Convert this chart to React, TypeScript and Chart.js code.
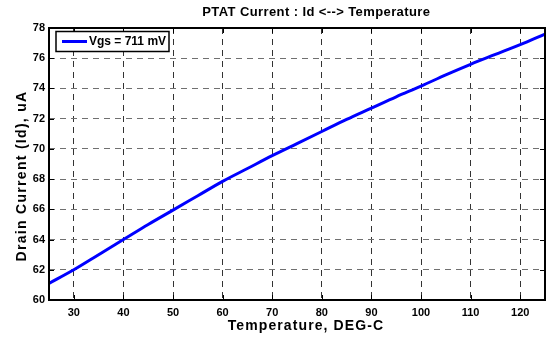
import React, { useEffect, useRef } from "react";
import { Chart, registerables } from "chart.js";

Chart.register(...registerables);

const temperatures = [25, 30, 35, 40, 45, 50, 55, 60, 65, 70, 75, 80, 85, 90, 95, 100, 105, 110, 115, 120, 125];
const drainCurrent = [61.1, 62.0, 63.0, 64.0, 65.0, 65.95, 66.9, 67.85, 68.7, 69.55, 70.35, 71.15, 71.95, 72.7, 73.45, 74.15, 74.9, 75.6, 76.25, 76.9, 77.6];
const xTicks = [30, 40, 50, 60, 70, 80, 90, 100, 110, 120];
const yTicks = [60, 62, 64, 66, 68, 70, 72, 74, 76, 78];
const seriesLabel = "Vgs = 711 mV";
const chartTitle = "PTAT Current : Id <--> Temperature";
const xTitle = "Temperature, DEG-C";
const yTitle = "Drain Current (Id), uA";

const FONT = "Arial, 'Liberation Sans', Helvetica, sans-serif";

export default function App() {
  const ref = useRef<HTMLCanvasElement>(null);

  useEffect(() => {
    document.body.style.margin = "0";
    const canvas = ref.current;
    if (!canvas) return;

    const framePlugin = {
      id: "frame",
      afterDraw(chart: any) {
        const { ctx, chartArea: a, scales } = chart;
        const xs = scales.x;
        const ys = scales.y;
        ctx.save();
        // inward tick marks
        ctx.strokeStyle = "#000";
        ctx.lineWidth = 1;
        ctx.setLineDash([]);
        ctx.beginPath();
        xTicks.forEach((v) => {
          const px = Math.round(xs.getPixelForValue(v)) + 0.5;
          ctx.moveTo(px, a.bottom);
          ctx.lineTo(px, a.bottom - 5);
          ctx.moveTo(px, a.top);
          ctx.lineTo(px, a.top + 5);
        });
        yTicks.forEach((v) => {
          const py = Math.round(ys.getPixelForValue(v)) + 0.5;
          ctx.moveTo(a.left, py);
          ctx.lineTo(a.left + 5, py);
          ctx.moveTo(a.right, py);
          ctx.lineTo(a.right - 5, py);
        });
        ctx.stroke();
        // axes box
        ctx.lineWidth = 2;
        ctx.strokeRect(a.left, a.top, a.right - a.left, a.bottom - a.top);

        // legend
        const lx = a.left + 7;
        const ly = a.top + 3.5;
        ctx.fillStyle = "#fff";
        ctx.fillRect(lx, ly, 113, 20);
        ctx.lineWidth = 1.5;
        ctx.strokeStyle = "#000";
        ctx.strokeRect(lx, ly, 113, 20);
        const ds = chart.data.datasets[0];
        ctx.strokeStyle = ds.borderColor;
        ctx.lineWidth = 3;
        ctx.beginPath();
        ctx.moveTo(lx + 6, ly + 10);
        ctx.lineTo(lx + 31, ly + 10);
        ctx.stroke();
        ctx.fillStyle = "#000";
        ctx.font = `bold 12px ${FONT}`;
        ctx.textAlign = "left";
        ctx.textBaseline = "middle";
        ctx.fillText(ds.label, lx + 33, ly + 10.5);

        // titles
        const w = a.right - a.left;
        const h = a.bottom - a.top;
        ctx.textAlign = "center";
        ctx.font = `bold 13px ${FONT}`;
        (ctx as any).letterSpacing = "0.4px";
        ctx.fillText(chartTitle, a.left + w * 0.539, 12.5);
        ctx.font = `bold 14px ${FONT}`;
        (ctx as any).letterSpacing = "1.1px";
        ctx.fillText(xTitle, a.left + w * 0.518, 326);
        ctx.save();
        ctx.translate(22, a.top + h * 0.544);
        ctx.rotate(-Math.PI / 2);
        ctx.font = `bold 14px ${FONT}`;
        (ctx as any).letterSpacing = "1.3px";
        ctx.fillText(yTitle, 0, 0);
        ctx.restore();
        (ctx as any).letterSpacing = "0px";
        ctx.restore();
      },
    };

    const chart = new Chart(canvas, {
      type: "line",
      data: {
        datasets: [
          {
            label: seriesLabel,
            data: temperatures.map((t, i) => ({ x: t, y: drainCurrent[i] })),
            borderColor: "#0000FF",
            backgroundColor: "#0000FF",
            borderWidth: 3,
            pointRadius: 0,
            cubicInterpolationMode: "monotone",
            fill: false,
          },
        ],
      },
      options: {
        responsive: false,
        animation: false,
        devicePixelRatio: 1,
        layout: { padding: { top: 28, right: 4, left: 0, bottom: 0 } },
        plugins: {
          legend: { display: false },
          title: { display: false },
          tooltip: { enabled: false },
        },
        scales: {
          x: {
            type: "linear",
            min: 25,
            max: 125,
            afterBuildTicks: (s: any) => {
              s.ticks = xTicks.map((v) => ({ value: v }));
            },
            afterFit: (s: any) => {
              s.height = 41;
            },
            grid: { color: "#333", drawTicks: false, lineWidth: 1 },
            border: { display: false, dash: [6, 5] },
            ticks: {
              color: "#000",
              padding: 6,
              maxRotation: 0,
              autoSkip: false,
              font: { family: FONT, size: 11, weight: "bold" },
            },
          },
          y: {
            type: "linear",
            min: 60,
            max: 78,
            afterBuildTicks: (s: any) => {
              s.ticks = yTicks.map((v) => ({ value: v }));
            },
            afterFit: (s: any) => {
              s.width = 49;
            },
            grid: { color: "#707070", drawTicks: false, lineWidth: 1 },
            border: { display: false, dash: [6, 5] },
            ticks: {
              color: "#000",
              padding: 4,
              autoSkip: false,
              font: { family: FONT, size: 11, weight: "bold" },
            },
          },
        },
      },
      plugins: [framePlugin],
    } as any);

    return () => chart.destroy();
  }, []);

  return (
    <div style={{ width: 549, height: 341 }}>
      <canvas ref={ref} width={549} height={341} style={{ display: "block" }} />
    </div>
  );
}
